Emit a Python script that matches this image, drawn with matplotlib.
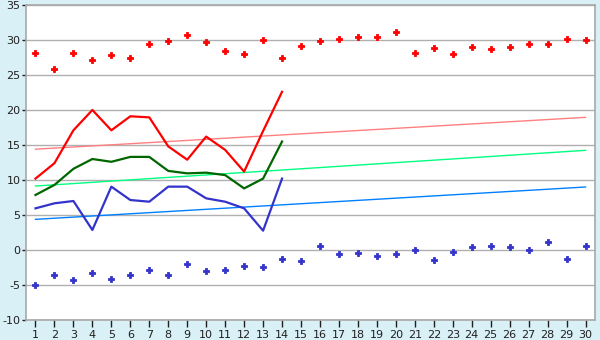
import matplotlib
matplotlib.use("Agg")
import matplotlib.pyplot as plt
import numpy as np

plt.rcParams["axes.unicode_minus"] = False

days = list(range(1, 31))
line_days = list(range(1, 15))

# upper scatter (red diamonds)
red_pts = [28.1, 25.8, 28.1, 27.2, 27.8, 27.4, 29.4, 29.8, 30.7, 29.7,
           28.4, 28.0, 30.0, 27.4, 29.2, 29.8, 30.2, 30.5, 30.4, 31.2,
           28.1, 28.8, 28.0, 29.0, 28.7, 29.0, 29.4, 29.4, 30.1, 30.0]
# lower scatter (blue diamonds)
blue_pts = [-5.05, -3.6, -4.3, -3.3, -4.2, -3.5, -2.8, -3.5, -2.0, -3.05,
            -2.86, -2.33, -2.48, -1.33, -1.62, 0.52, -0.62, -0.48, -0.9, -0.62,
            -0.05, -1.48, -0.33, 0.38, 0.52, 0.38, -0.05, 1.1, -1.33, 0.52]

red_line = [10.2, 12.4, 17.1, 20.0, 17.1, 19.1, 18.95, 14.8, 12.9, 16.2,
            14.3, 11.2, 17.0, 22.6]
green_line = [7.86, 9.3, 11.6, 13.0, 12.6, 13.3, 13.3, 11.3, 10.95, 11.05,
              10.7, 8.8, 10.2, 15.5]
blue_line = [5.95, 6.67, 7.0, 2.86, 9.05, 7.14, 6.9, 9.05, 9.05, 7.38,
             6.9, 5.95, 2.76, 10.2]

# trend lines: value at day 1 and day 30
trend_days = [1, 30]
pink_trend = [14.4, 18.95]
lgreen_trend = [9.14, 14.24]
lblue_trend = [4.38, 9.0]

bg = "#d9f0f7"
fig = plt.figure(figsize=(6, 3.4), dpi=100, facecolor=bg)
ax = fig.add_axes([26/600, 20/340, 569/600, 315/340])
ax.set_facecolor("white")

ax.plot(trend_days, pink_trend, color="#ff8080", lw=1, zorder=2)
ax.plot(trend_days, lgreen_trend, color="#00ff80", lw=1, zorder=2)
ax.plot(trend_days, lblue_trend, color="#0080ff", lw=1, zorder=2)

ax.plot(line_days, red_line, color="#ff0000", lw=1.6, zorder=3)
ax.plot(line_days, green_line, color="#006600", lw=1.6, zorder=3)
ax.plot(line_days, blue_line, color="#3333cc", lw=1.6, zorder=3)

for pts, col in [(red_pts, "#ff0000"), (blue_pts, "#3333cc")]:
    ax.plot(days, pts, ls="none", marker="P", ms=5, color=col,
            mec=col, mew=0.6, zorder=4)

ax.set_xlim(0.5, 30.5)
ax.set_ylim(-10, 35)
ax.set_xticks(days)
ax.set_yticks(np.arange(-10, 36, 5))
ax.yaxis.grid(True, color="#b0b0b0", lw=1)
ax.set_axisbelow(True)

for s in ["top", "right", "left", "bottom"]:
    ax.spines[s].set_color("#a8a8a8")
    ax.spines[s].set_linewidth(1.2)

ax.tick_params(axis="x", direction="out", length=5, width=1, color="#202020",
               labelsize=8, pad=2, labelcolor="#202020")
ax.tick_params(axis="y", direction="out", length=3, width=1, color="#202020",
               labelsize=8, pad=1, labelcolor="#202020")

fig.savefig("out.png", dpi=100, facecolor=bg)
